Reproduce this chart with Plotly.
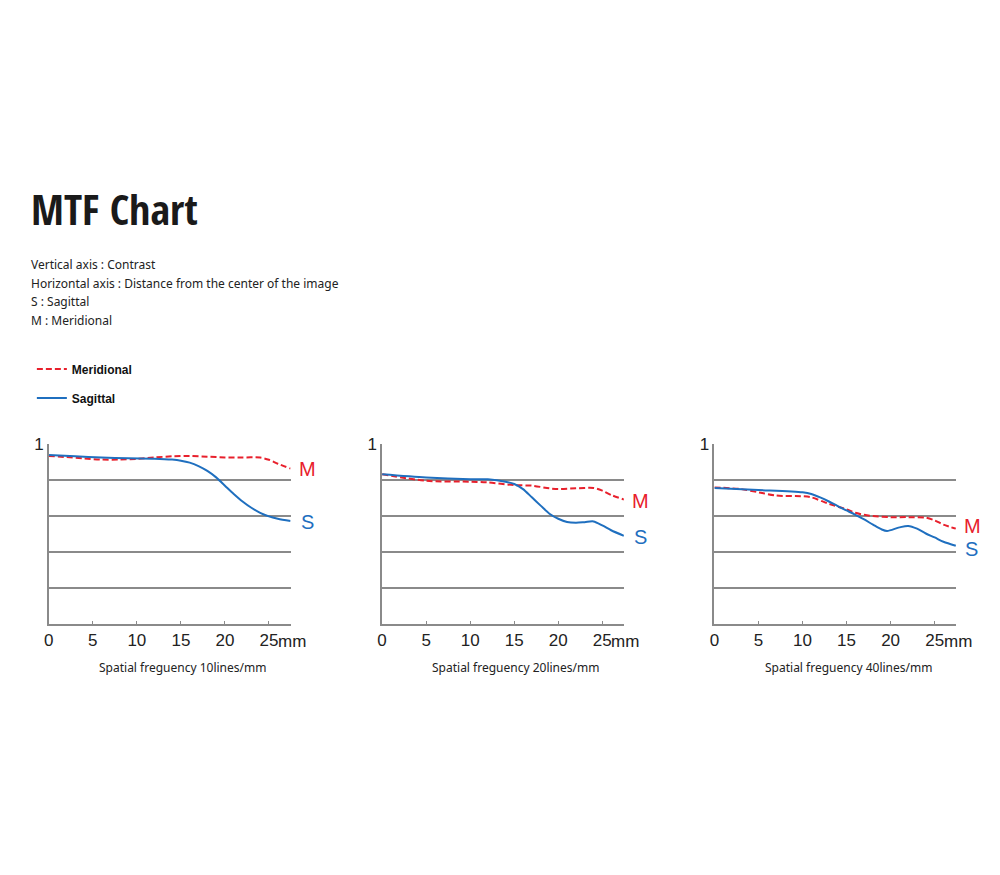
import plotly.graph_objects as go

# ---------------- data ----------------
panel_titles = ["Spatial freguency 10lines/mm", "Spatial freguency 20lines/mm", "Spatial freguency 40lines/mm"]

s1_x = [0, 3, 6, 9, 12, 14, 15, 16, 17, 18, 19, 20, 21, 22, 23, 24, 25, 26, 27.45]
s1_y = [0.941, 0.934, 0.928, 0.923, 0.921, 0.916, 0.910, 0.899, 0.880, 0.853, 0.817, 0.771, 0.725, 0.683, 0.648, 0.620, 0.600, 0.587, 0.574]
m1_x = [0, 2, 4, 6, 8, 10, 12, 14, 16, 18, 20, 22, 24, 25, 26, 27.45]
m1_y = [0.936, 0.930, 0.922, 0.916, 0.916, 0.920, 0.928, 0.934, 0.936, 0.932, 0.928, 0.928, 0.927, 0.915, 0.893, 0.866]

s2_x = [0, 5, 10, 12, 14, 15, 16, 17, 18, 19, 20, 21, 22, 23, 24, 25, 26, 27.45]
s2_y = [0.835, 0.817, 0.807, 0.806, 0.793, 0.780, 0.752, 0.706, 0.660, 0.615, 0.587, 0.569, 0.565, 0.568, 0.572, 0.550, 0.523, 0.492]
m2_x = [0, 5, 10, 12, 15, 17, 19, 20, 22, 24, 25, 26, 27.45]
m2_y = [0.835, 0.798, 0.793, 0.789, 0.774, 0.771, 0.756, 0.752, 0.756, 0.758, 0.743, 0.719, 0.694]

s3_x = [0, 5, 10, 11, 12, 13, 14, 15, 16, 17, 18, 19, 19.6, 21, 22, 23, 24, 25, 26, 27.4]
s3_y = [0.758, 0.747, 0.734, 0.725, 0.706, 0.683, 0.657, 0.633, 0.609, 0.583, 0.554, 0.527, 0.519, 0.539, 0.547, 0.532, 0.505, 0.483, 0.459, 0.437]
m3_x = [0, 3, 5, 7, 10, 11, 13, 15, 16, 17, 18, 20, 22, 24, 25, 26, 27.4]
m3_y = [0.761, 0.752, 0.734, 0.716, 0.712, 0.706, 0.670, 0.639, 0.620, 0.609, 0.602, 0.596, 0.596, 0.593, 0.578, 0.554, 0.532]

x_ticks = [0, 5, 10, 15, 20, 25]
x_tick_labels = ["0", "5", "10", "15", "20", "25"]
grid_vals = [0.2, 0.4, 0.6, 0.8]

# label positions (x mm, y contrast) for M / S tags
m_label_pos = [(29.4, 0.866), (29.3, 0.684), (29.3, 0.549)]
s_label_pos = [(29.4, 0.567), (29.3, 0.486), (29.2, 0.416)]

description = [
    "Vertical axis : Contrast",
    "Horizontal axis : Distance from the center of the image",
    "S : Sagittal",
    "M : Meridional",
]

RED = "#e8202c"
BLUE = "#1f6fbf"
GRID = "#8a8a8a"
W, H = 1000, 875
X_MAX = 27.45

panels = [(s1_x, s1_y, m1_x, m1_y), (s2_x, s2_y, m2_x, m2_y), (s3_x, s3_y, m3_x, m3_y)]
x_domains = [(44, 287), (379, 622), (713, 956)]
y_bottom_px, y_top_px = 621.7, 440.0

fig = go.Figure()
annotations = []


def to_paper(i, xv, yv):
    d0, d1 = x_domains[i]
    px = d0 + xv / X_MAX * (d1 - d0)
    py = y_bottom_px - yv * (y_bottom_px - y_top_px)
    return px / W, 1 - py / H


for i, (sx, sy, mx, my) in enumerate(panels):
    n = "" if i == 0 else str(i + 1)
    xa, ya = "x" + n, "y" + n
    fig.add_trace(go.Scatter(x=mx, y=my, mode="lines", name="Meridional", xaxis=xa, yaxis=ya,
                             line=dict(color=RED, width=2, dash="6px,3px", shape="spline", smoothing=0.8),
                             showlegend=(i == 0), legendgroup="m"))
    fig.add_trace(go.Scatter(x=sx, y=sy, mode="lines", name="Sagittal", xaxis=xa, yaxis=ya,
                             line=dict(color=BLUE, width=2, shape="spline", smoothing=0.8),
                             showlegend=(i == 0), legendgroup="s"))
    d0, d1 = x_domains[i]
    fig.layout["xaxis" + n] = dict(
        domain=[d0 / W, d1 / W], range=[0, X_MAX], anchor=ya,
        showline=True, linecolor=GRID, linewidth=1.5, showgrid=False, zeroline=False,
        tickvals=x_ticks, ticktext=x_tick_labels, ticks="inside", ticklen=4, tickcolor=GRID,
        tickwidth=1, tickfont=dict(family="Liberation Sans, Arial", size=17, color="#222"),
        fixedrange=True,
    )
    fig.layout["yaxis" + n] = dict(
        domain=[1 - y_bottom_px / H, 1 - y_top_px / H], range=[0, 1], anchor=xa,
        showline=True, linecolor=GRID, linewidth=1.5, showgrid=False, zeroline=False,
        tickvals=[1], ticktext=["1"], ticks="",
        tickfont=dict(family="Liberation Sans, Arial", size=17, color="#222"),
        minor=dict(tickvals=grid_vals, showgrid=True, gridcolor=GRID, gridwidth=1.5, ticks=""),
        fixedrange=True,
    )
    # "mm" suffix after 25
    annotations.append(dict(x=25, y=0, xref=xa, yref=ya, text="mm", showarrow=False,
                            xanchor="left", yanchor="top", xshift=7, yshift=-6,
                            font=dict(family="Liberation Sans, Arial", size=17, color="#222")))
    mxp, myp = to_paper(i, *m_label_pos[i])
    sxp, syp = to_paper(i, *s_label_pos[i])
    annotations.append(dict(x=mxp, y=myp, xref="paper", yref="paper", text="M", showarrow=False,
                            xanchor="center", yanchor="middle", borderpad=0,
                            font=dict(family="Liberation Sans, Arial", size=20, color=RED)))
    annotations.append(dict(x=sxp, y=syp, xref="paper", yref="paper", text="S", showarrow=False,
                            xanchor="center", yanchor="middle", borderpad=0,
                            font=dict(family="Liberation Sans, Arial", size=20, color=BLUE)))
    cx = (d0 + d1) / 2 + 13
    annotations.append(dict(x=cx / W, y=1 - 665 / H, xref="paper", yref="paper", text=panel_titles[i],
                            showarrow=False, xanchor="center", yanchor="middle",
                            font=dict(family="Noto Sans", size=12, color="#222")))

# title and description
annotations.append(dict(x=24 / W, y=1 - 202 / H, xref="paper", yref="paper", text="<b>MTF Chart</b>",
                        showarrow=False, xanchor="left", yanchor="middle",
                        font=dict(family="Open Sans Condensed, Roboto Condensed, sans-serif",
                                  size=42, color="#1a1a1a")))
for k, line in enumerate(description):
    annotations.append(dict(x=24 / W, y=1 - (258 + 19 * k) / H, xref="paper", yref="paper", text=line,
                            showarrow=False, xanchor="left", yanchor="middle",
                            font=dict(family="Noto Sans", size=12, color="#222")))

fig.update_layout(
    width=W, height=H, margin=dict(l=0, r=0, t=0, b=0),
    paper_bgcolor="white", plot_bgcolor="white",
    annotations=annotations,
    showlegend=True,
    legend=dict(x=27 / W, y=1 - 349 / H, xanchor="left", yanchor="top",
                traceorder="grouped", tracegroupgap=10, itemwidth=30,
                font=dict(family="Liberation Sans, Arial", size=12, color="#111", weight="bold"),
                bgcolor="rgba(0,0,0,0)"),
)

fig.write_html("out.html")
